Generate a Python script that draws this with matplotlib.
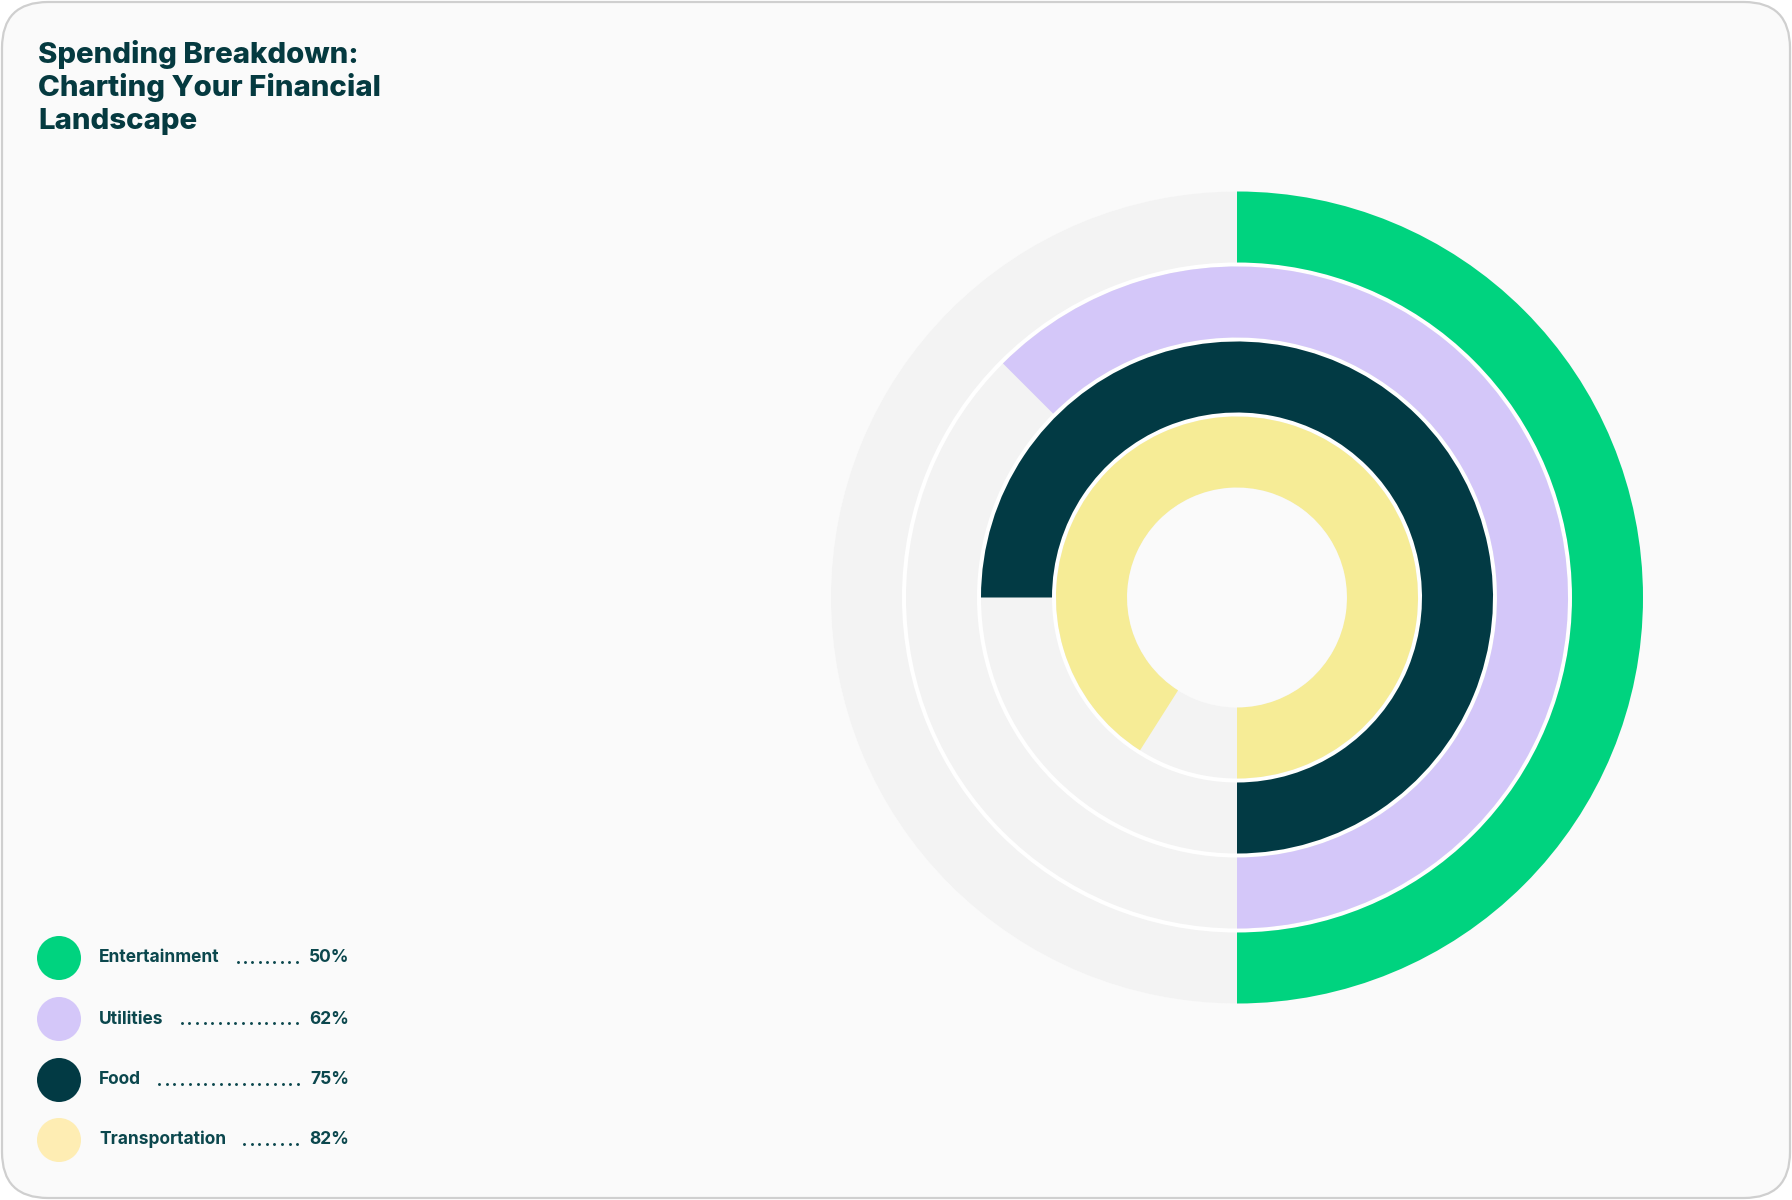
import matplotlib.pyplot as plt
import numpy as np
from matplotlib.patches import FancyBboxPatch, Circle

# data
categories = ["Entertainment", "Utilities", "Food", "Transportation"]
pct_labels = ["50%", "62%", "75%", "82%"]
# arc lengths as drawn in the picture (percent of a full turn)
arc_values = [50, 62.5, 75, 91]
ring_colors = ["#00D37F", "#D4C7F9", "#023A44", "#F6EC96"]
legend_colors = ["#00D37F", "#D4C7F9", "#023A44", "#FEEDB3"]
title_lines = ["Spending Breakdown:", "Charting Your Financial", "Landscape"]

W, H = 1792, 1200
plt.rcParams["font.family"] = ["Inter", "DejaVu Sans"]

fig = plt.figure(figsize=(W / 100, H / 100), dpi=100, facecolor="white")

# background card in pixel coords
bg = fig.add_axes([0, 0, 1, 1])
bg.set_xlim(0, W)
bg.set_ylim(H, 0)
bg.axis("off")
card = FancyBboxPatch((2, 2), W - 4, H - 4,
                      boxstyle="round,pad=0,rounding_size=46",
                      facecolor="#FAFAFA", edgecolor="#CFCFCF", linewidth=1.6)
bg.add_patch(card)

title_color = "#053A40"
text_color = "#0B474D"
for i, line in enumerate(title_lines):
    bg.text(38, 63 + 33 * i, line, fontsize=21.2, fontweight="heavy",
            color=title_color, va="baseline", ha="left")

# legend
leg_y = [958, 1019, 1080, 1140]
labels, vals = [], []
for i, cat in enumerate(categories):
    bg.add_patch(Circle((59, leg_y[i]), 22, facecolor=legend_colors[i], edgecolor="none"))
    labels.append(bg.text(99, leg_y[i] + 4.5, cat, fontsize=12.5, fontweight="bold",
                          color=text_color, va="baseline", ha="left"))
    vals.append(bg.text(349, leg_y[i] + 4.5, pct_labels[i], fontsize=12.5,
                        fontweight="bold", color=text_color, va="baseline", ha="right"))

# dotted leaders between label and value
fig.canvas.draw()
r = fig.canvas.get_renderer()
for i in range(len(categories)):
    x0 = labels[i].get_window_extent(r).x1 + 18
    x1 = vals[i].get_window_extent(r).x0 - 12
    n = int(round((x1 - x0) / 7.6)) + 1
    xs = np.linspace(x0, x1, n)
    bg.plot(xs, [leg_y[i] + 3.5] * n, linestyle="none", marker="o",
            markersize=2.1, color=text_color, markeredgewidth=0)

# radial bars, starting at the bottom and running counter-clockwise
cx, cy, R = 1237, 597.5, 410
ax = fig.add_axes([(cx - R) / W, (H - cy - R) / H, 2 * R / W, 2 * R / H],
                  projection="polar")
ax.set_facecolor("none")
ax.set_theta_zero_location("S")
ax.set_theta_direction(1)
ax.set_ylim(0, R)
ax.axis("off")

inner, width, gap = 110, 71, 4
ax.bar(0, 4 * width + 3 * gap, width=2 * np.pi, bottom=inner, align="edge",
       color="white", linewidth=0)
for i, v in enumerate(arc_values):
    bottom = inner + (3 - i) * (width + gap)
    ax.bar(0, width, width=2 * np.pi, bottom=bottom, align="edge",
           color="#F3F3F3", linewidth=0)
    ax.bar(0, width, width=2 * np.pi * v / 100, bottom=bottom, align="edge",
           color=ring_colors[i], linewidth=0)

fig.savefig("out.png", dpi=100, facecolor="white")
